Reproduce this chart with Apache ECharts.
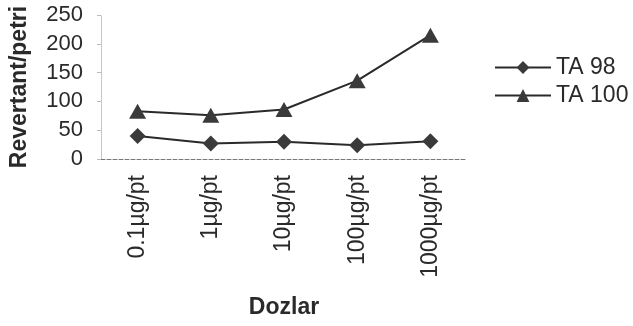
<!DOCTYPE html>
<html>
<head>
<meta charset="utf-8">
<script src="https://cdn.jsdelivr.net/npm/echarts@6/dist/echarts.min.js"></script>
<style>
  html, body { margin: 0; padding: 0; background: #fff; }
  #chart { width: 633px; height: 326px; }
</style>
</head>
<body>
<div id="chart"></div>
<script>
const categories = ['0.1µg/pt', '1µg/pt', '10µg/pt', '100µg/pt', '1000µg/pt']
const ta98 = [40, 27, 30, 24, 31]
const ta100 = [83, 76, 86, 136, 215]
const yTicks = [0, 50, 100, 150, 200, 250]

const chart = echarts.init(document.getElementById('chart'))
const font = 'Liberation Sans, Arial, sans-serif'

chart.setOption({
  animation: false,
  grid: { left: 100, right: 166, top: 15, bottom: 167 },
  legend: {
    left: 494,
    top: 56,
    padding: 0,
    orient: 'vertical',
    itemWidth: 56,
    itemHeight: 16,
    itemGap: 5,
    textStyle: { fontFamily: font, fontSize: 23, color: '#2a2a2a' },
    data: ['TA 98', 'TA 100']
  },
  xAxis: {
    type: 'category',
    data: categories,
    name: 'Dozlar',
    nameLocation: 'middle',
    nameGap: 137,
    nameTextStyle: { fontFamily: font, fontSize: 23, fontWeight: 'bold', color: '#2a2a2a' },
    axisLine: { lineStyle: { color: '#777', type: 'dashed', width: 1 } },
    axisTick: { show: false },
    axisLabel: { rotate: 90, margin: 16, fontFamily: font, fontSize: 23, color: '#2a2a2a' }
  },
  yAxis: {
    type: 'value',
    min: 0,
    max: 250,
    interval: 50,
    name: 'Revertant/petri',
    nameLocation: 'middle',
    nameGap: 70,
    nameTextStyle: { fontFamily: font, fontSize: 23, fontWeight: 'bold', color: '#2a2a2a' },
    axisLine: { show: true, lineStyle: { color: '#bbb', type: 'dotted' } },
    axisTick: { show: true, length: 4, lineStyle: { color: '#bbb' } },
    splitLine: { show: false },
    axisLabel: {
      margin: 18,
      fontFamily: font,
      fontSize: 22,
      color: '#2a2a2a',
      formatter: v => yTicks.includes(v) ? String(v) : ''
    }
  },
  series: [
    {
      name: 'TA 98',
      type: 'line',
      data: ta98,
      symbol: 'diamond',
      symbolSize: [16, 16],
      lineStyle: { color: '#2a2a2a', width: 2 },
      itemStyle: { color: '#3a3a3a' }
    },
    {
      name: 'TA 100',
      type: 'line',
      data: ta100,
      symbol: 'triangle',
      symbolSize: [17, 15],
      lineStyle: { color: '#2a2a2a', width: 2 },
      itemStyle: { color: '#3a3a3a' }
    }
  ]
})
</script>
</body>
</html>
